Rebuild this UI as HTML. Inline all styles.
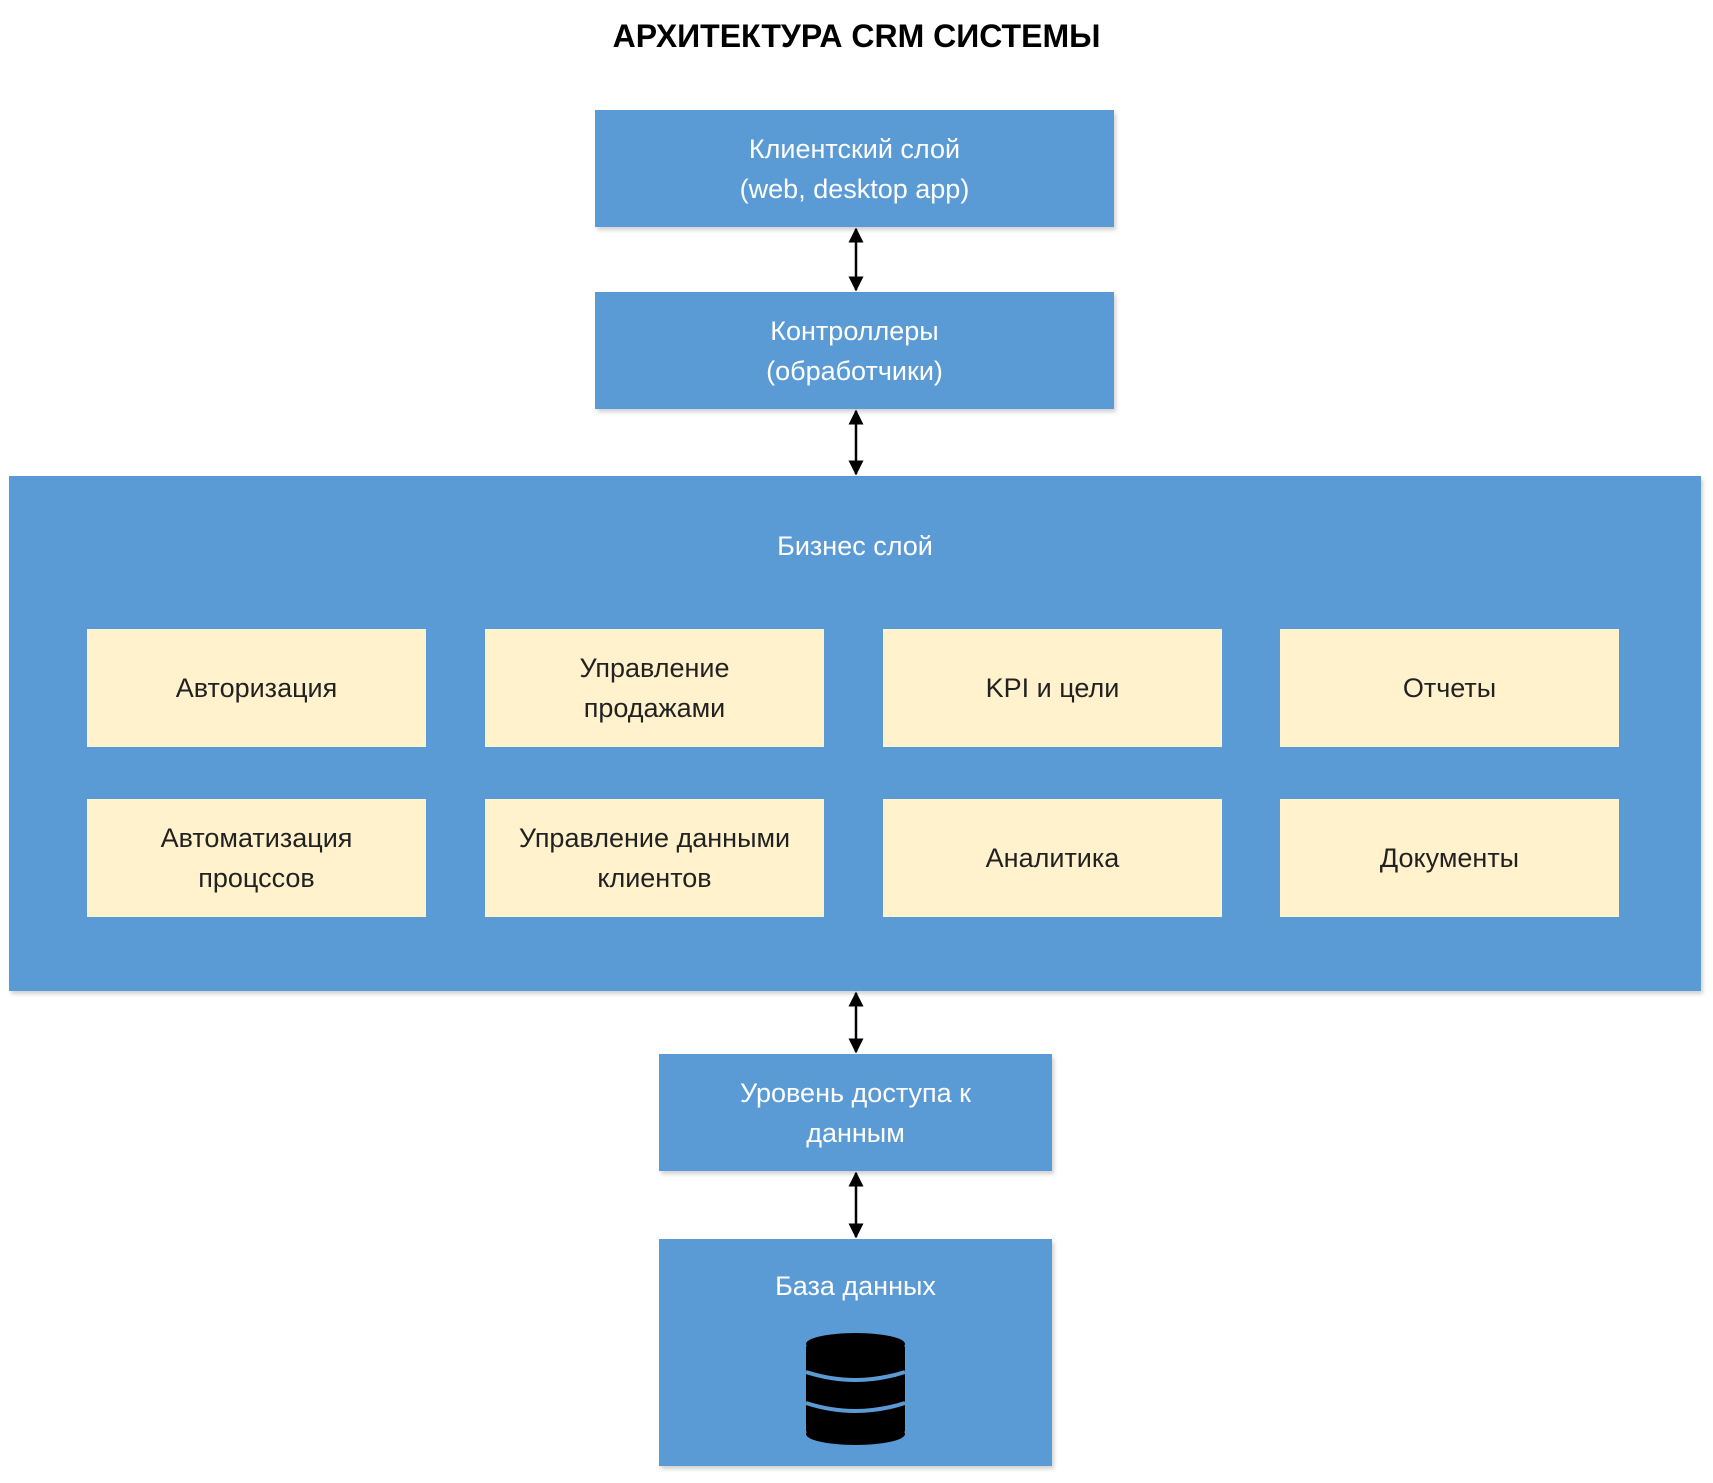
<!DOCTYPE html>
<html><head><meta charset="utf-8"><style>
body{margin:0;width:1713px;height:1483px;background:#fff;position:relative;overflow:hidden;font-family:"Liberation Sans","DejaVu Sans",sans-serif}
.b{position:absolute;background:#5b9bd5;color:#fff;display:flex;align-items:center;justify-content:center;text-align:center;font-size:27px;line-height:40px;box-shadow:2px 3px 4px rgba(0,0,0,0.18)}
.y{position:absolute;background:#fff2cc;color:#222;display:flex;align-items:center;justify-content:center;text-align:center;font-size:27px;line-height:40px;width:339px;height:118px}
.t{position:absolute;left:0;width:1713px;text-align:center;font-weight:bold;font-size:32px;top:18px;color:#000}
</style></head><body>
<div class="t">АРХИТЕКТУРА CRM СИСТЕМЫ</div>
<div class="b" style="left:595px;top:110px;width:519px;height:117px">Клиентский слой<br>(web, desktop app)</div>
<div class="b" style="left:595px;top:292px;width:519px;height:117px">Контроллеры<br>(обработчики)</div>
<div class="b" style="left:9px;top:476px;width:1692px;height:515px;align-items:flex-start"><div style="margin-top:50px">Бизнес слой</div></div>
<div class="y" style="left:87px;top:629px">Авторизация</div>
<div class="y" style="left:485px;top:629px">Управление<br>продажами</div>
<div class="y" style="left:883px;top:629px">KPI и цели</div>
<div class="y" style="left:1280px;top:629px">Отчеты</div>
<div class="y" style="left:87px;top:799px">Автоматизация<br>процссов</div>
<div class="y" style="left:485px;top:799px">Управление данными<br>клиентов</div>
<div class="y" style="left:883px;top:799px">Аналитика</div>
<div class="y" style="left:1280px;top:799px">Документы</div>
<div class="b" style="left:659px;top:1054px;width:393px;height:117px">Уровень доступа к<br>данным</div>
<div class="b" style="left:659px;top:1239px;width:393px;height:227px;align-items:flex-start"><div style="margin-top:27px">База данных</div></div>
<svg style="position:absolute;left:0;top:0" width="1713" height="1483">
<defs><marker id="a" viewBox="0 0 10 10" refX="9" refY="5" markerWidth="6" markerHeight="6" orient="auto-start-reverse"><path d="M0,0L10,5L0,10z" fill="#000"/></marker></defs>
<g stroke="#000" stroke-width="2.5">
<line x1="856" y1="229" x2="856" y2="290" marker-start="url(#a)" marker-end="url(#a)"/>
<line x1="856" y1="411" x2="856" y2="474" marker-start="url(#a)" marker-end="url(#a)"/>
<line x1="856" y1="993" x2="856" y2="1052" marker-start="url(#a)" marker-end="url(#a)"/>
<line x1="856" y1="1173" x2="856" y2="1237" marker-start="url(#a)" marker-end="url(#a)"/>
</g>
<g fill="#000">
<rect x="806" y="1344" width="99" height="90" rx="4"/>
<ellipse cx="855.5" cy="1344" rx="49.5" ry="11"/>
<ellipse cx="855.5" cy="1434" rx="49.5" ry="11"/>
</g>
<g fill="none" stroke="#5b9bd5" stroke-width="4">
<path d="M806,1372 Q855.5,1388 905,1372"/>
<path d="M806,1403 Q855.5,1419 905,1403"/>
</g>
</svg>
</body></html>
